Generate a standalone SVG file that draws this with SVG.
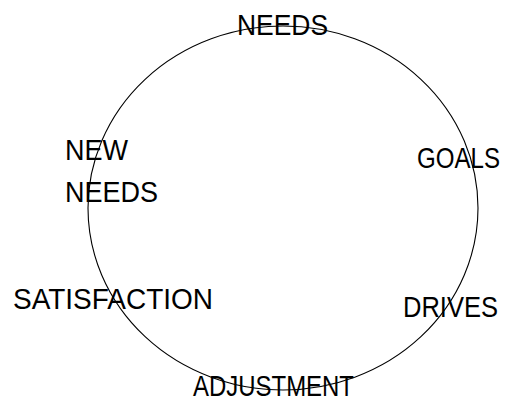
<svg xmlns="http://www.w3.org/2000/svg" width="522" height="401" viewBox="0 0 522 401">
<style>
.lbl{font-family:"Liberation Sans",Arial,sans-serif;font-size:30px;fill:#000;}
.cyc{fill:none;stroke:#000;stroke-width:1.1;}
</style>
<rect width="522" height="401" fill="#fff"/>
<g id="connectors">
<ellipse class="cyc" cx="283" cy="208" rx="195" ry="182"/>
</g>
<g id="needs"><text class="lbl" x="237" y="35" textLength="91" lengthAdjust="spacingAndGlyphs">NEEDS</text></g>
<g id="goals"><text class="lbl" x="417" y="168" textLength="83" lengthAdjust="spacingAndGlyphs">GOALS</text></g>
<g id="drives"><text class="lbl" x="403" y="317" textLength="95" lengthAdjust="spacingAndGlyphs">DRIVES</text></g>
<g id="adjustment"><text class="lbl" x="193" y="396" textLength="161" lengthAdjust="spacingAndGlyphs">ADJUSTMENT</text></g>
<g id="satisfaction"><text class="lbl" x="13" y="309" textLength="200" lengthAdjust="spacingAndGlyphs">SATISFACTION</text></g>
<g id="new-needs"><text class="lbl" x="65" y="160" textLength="63" lengthAdjust="spacingAndGlyphs">NEW</text><text class="lbl" x="65" y="202" textLength="93" lengthAdjust="spacingAndGlyphs">NEEDS</text></g>
</svg>
